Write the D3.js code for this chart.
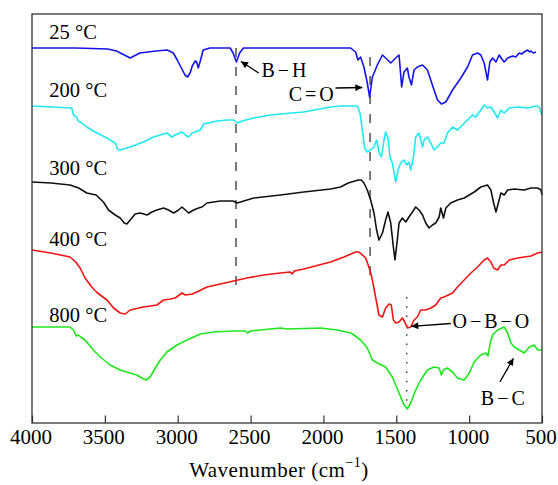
<!DOCTYPE html>
<html>
<head>
<meta charset="utf-8">
<script src="https://cdn.jsdelivr.net/npm/d3@7"></script>
<style>
  body { margin: 0; background: #fff; }
  text { font-family: "Liberation Serif", "Times New Roman", serif; }
</style>
</head>
<body>
<svg id="chart" width="558" height="485"></svg>
<script>
// FTIR spectra, wavenumber (cm-1) vs offset transmittance (a.u.)
const xTicks = [4000, 3500, 3000, 2500, 2000, 1500, 1000, 500]

const s25 = [[4000,375],[3700,375],[3480,374],[3420,372],[3326,365],[3260,370],[3150,372],[3072,373],[3030,370],[3003,363],[2975,355],[2950,348],[2932,346],[2915,350],[2900,357],[2880,362],[2870,361],[2859,355],[2845,362],[2825,373],[2780,375],[2640,375],[2620,370],[2597,361],[2575,370],[2549,375],[2200,375],[1813,375],[1779,371],[1763,363],[1745,366],[1722,356],[1699,340],[1683,326],[1664,346],[1630,358],[1595,368],[1573,365],[1538,360],[1497,366],[1481,368],[1463,336],[1447,351],[1424,355],[1413,346],[1396,338],[1378,353],[1355,356],[1320,358],[1286,353],[1241,333],[1217,323],[1190,319],[1160,321],[1114,333],[1057,345],[1011,356],[977,368],[942,370],[920,368],[897,360],[874,343],[858,361],[839,365],[816,361],[794,368],[770,363],[759,361],[736,365],[701,367],[680,366],[656,370],[640,369],[622,371],[598,373],[585,371],[576,372],[560,370],[541,371]]

const s200 = [[4000,317],[3727,315],[3716,308],[3693,306],[3682,302],[3658,300],[3624,296],[3567,291],[3486,285],[3429,280],[3413,274],[3395,273],[3326,276],[3235,281],[3166,286],[3120,288],[3074,290],[3039,286],[3017,288],[2971,291],[2948,288],[2925,286],[2902,290],[2879,291],[2845,293],[2822,299],[2730,302],[2661,303],[2616,303],[2592,300],[2558,302],[2478,305],[2363,308],[2295,309],[2135,311],[1951,316],[1882,317],[1767,317],[1749,310],[1733,293],[1717,275],[1699,271],[1676,273],[1653,276],[1635,283],[1619,271],[1602,266],[1584,283],[1573,291],[1557,285],[1543,266],[1527,260],[1504,241],[1488,253],[1470,260],[1447,263],[1428,258],[1413,261],[1401,253],[1382,266],[1367,286],[1344,290],[1320,276],[1309,283],[1286,286],[1263,280],[1241,273],[1217,276],[1195,280],[1172,280],[1149,290],[1114,296],[1080,293],[1046,298],[1011,303],[977,308],[954,306],[920,313],[897,318],[874,315],[851,316],[828,311],[805,305],[782,313],[759,310],[725,315],[667,316],[598,315],[541,317],[518,316],[502,308]]

const s300 = [[4000,241],[3870,240],[3739,238],[3680,235],[3624,230],[3560,228],[3510,221],[3475,213],[3429,208],[3395,205],[3367,200],[3349,199],[3326,203],[3292,209],[3257,210],[3211,208],[3177,211],[3143,213],[3097,215],[3063,213],[3028,210],[2994,213],[2971,216],[2948,213],[2925,210],[2891,213],[2857,215],[2833,216],[2799,220],[2707,222],[2620,222],[2592,220],[2547,222],[2478,225],[2295,228],[2135,231],[1951,234],[1882,236],[1830,240],[1760,243],[1740,243],[1722,240],[1699,233],[1676,223],[1653,210],[1635,193],[1619,183],[1595,190],[1573,203],[1557,211],[1538,200],[1520,176],[1509,163],[1493,183],[1481,200],[1458,205],[1435,201],[1413,206],[1389,211],[1367,216],[1344,213],[1320,208],[1298,200],[1275,195],[1252,198],[1229,200],[1206,206],[1195,215],[1176,205],[1160,215],[1126,220],[1080,223],[1034,225],[999,228],[965,231],[920,236],[874,238],[851,233],[832,220],[816,211],[794,223],[782,230],[759,228],[736,233],[690,234],[622,233],[576,235],[530,235],[507,233],[500,228]]

const s400 = [[4000,173],[3870,170],[3739,166],[3700,161],[3670,155],[3636,145],[3590,136],[3550,130],[3486,123],[3440,115],[3395,110],[3360,109],[3326,113],[3235,116],[3143,118],[3097,123],[3050,124],[3017,125],[2971,130],[2948,128],[2902,129],[2868,131],[2799,136],[2707,139],[2616,142],[2525,145],[2410,148],[2295,150],[2226,151],[2214,149],[2200,152],[2135,154],[1951,161],[1859,166],[1779,171],[1756,171],[1710,165],[1681,153],[1664,143],[1642,126],[1619,108],[1595,106],[1573,115],[1550,119],[1534,118],[1520,103],[1504,100],[1481,101],[1458,105],[1442,101],[1424,95],[1401,96],[1378,103],[1355,106],[1332,113],[1298,113],[1263,115],[1229,118],[1195,125],[1172,126],[1114,130],[1080,136],[1034,143],[988,150],[942,156],[897,163],[874,165],[851,161],[832,155],[805,153],[782,158],[759,158],[725,163],[667,165],[622,166],[576,167],[530,170],[500,171]]

const s800 = [[4000,96],[3739,96],[3716,93],[3697,87],[3682,88],[3665,86],[3636,83],[3579,73],[3532,66],[3464,58],[3395,53],[3326,50],[3280,48],[3246,45],[3218,43],[3189,46],[3154,55],[3120,63],[3074,71],[3005,78],[2936,83],[2845,89],[2753,91],[2616,92],[2535,92],[2520,90],[2501,92],[2432,93],[2295,95],[2249,94],[2020,95],[1905,93],[1813,90],[1790,88],[1745,83],[1699,75],[1664,63],[1630,60],[1573,56],[1527,46],[1481,30],[1447,18],[1424,14],[1401,20],[1367,33],[1332,43],[1286,53],[1241,56],[1206,55],[1190,48],[1176,53],[1149,55],[1114,51],[1080,45],[1034,43],[999,50],[965,61],[920,68],[885,70],[870,67],[856,80],[839,88],[805,93],[759,96],[736,90],[713,80],[690,76],[656,73],[622,70],[587,76],[553,78],[530,73],[500,73]]

const seriesNames = ['25 °C', '200 °C', '300 °C', '400 °C', '800 °C']
const seriesColors = ['#1414e8', '#1fe8f0', '#111111', '#f01414', '#1ee61e']
const labelValues = [384, 326, 248, 177, 101]

// guide lines: [wavenumber, from, to]
const dashedGuides = [[2600, 375, 131], [1680, 366, 145]]
const dottedGuides = [[1428, 126, 14]]

// annotations: text, text position, arrow start, arrow tip
const notes = [
    {text: 'B\u2212H', at: [2425, 346], from: [2444, 350], to: [2566, 361.5]},
    {text: 'C=O', at: [2238, 322], from: [1917, 335], to: [1733, 335.5]},
    {text: 'O\u2212B\u2212O', at: [1114, 95], from: [1126, 99.5], to: [1397, 96.7]},
    {text: 'B\u2212C', at: [920, 18.5], from: [789, 41], to: [696, 64.7]}
]

const margin = {top: 14, right: 16, bottom: 62, left: 32},
    width = 558 - margin.left - margin.right,
    height = 485 - margin.top - margin.bottom

const svg = d3.select('#chart')
const g = svg.append('g').attr('transform', 'translate(' + margin.left + ',' + margin.top + ')')

const x = d3.scaleLinear().domain([4000, 500]).range([0, width])
const y = d3.scaleLinear().domain([0, 409]).range([height, 0])

const line = d3.line().x(d => x(d[0])).y(d => y(d[1]))

const series = [s25, s200, s300, s400, s800].map((data, i) => ({
    name: seriesNames[i], color: seriesColors[i], data, label: labelValues[i]
}))

// guides first so the spectra sit on top
g.selectAll('.dash')
    .data(dashedGuides)
    .enter().append('line')
    .attr('x1', d => x(d[0])).attr('x2', d => x(d[0]))
    .attr('y1', d => y(d[1])).attr('y2', d => y(d[2]))
    .attr('stroke', '#222').attr('stroke-width', 1.2)
    .attr('stroke-dasharray', '9,10')

g.selectAll('.dot')
    .data(dottedGuides)
    .enter().append('line')
    .attr('x1', d => x(d[0])).attr('x2', d => x(d[0]))
    .attr('y1', d => y(d[1])).attr('y2', d => y(d[2]))
    .attr('stroke', '#222').attr('stroke-width', 1.3)
    .attr('stroke-dasharray', '1.5,7.8')

g.selectAll('.spectrum')
    .data(series)
    .enter().append('path')
    .attr('d', d => line(d.data))
    .attr('fill', 'none')
    .attr('stroke', d => d.color)
    .attr('stroke-width', 1.6)
    .attr('stroke-linejoin', 'round')

g.selectAll('.label')
    .data(series)
    .enter().append('text')
    .attr('x', x(3881))
    .attr('y', d => y(d.label))
    .attr('font-size', 20.5)
    .text(d => d.name)

// arrows
svg.append('defs').append('marker')
    .attr('id', 'head')
    .attr('viewBox', '0 0 10 10')
    .attr('refX', 10).attr('refY', 5)
    .attr('markerWidth', 9).attr('markerHeight', 7)
    .attr('markerUnits', 'userSpaceOnUse')
    .attr('orient', 'auto')
    .append('path').attr('d', 'M0,0L10,5L0,10z').attr('fill', '#000')

g.selectAll('.arrow')
    .data(notes)
    .enter().append('line')
    .attr('x1', d => x(d.from[0])).attr('y1', d => y(d.from[1]))
    .attr('x2', d => x(d.to[0])).attr('y2', d => y(d.to[1]))
    .attr('stroke', '#000').attr('stroke-width', 1.3)
    .attr('marker-end', 'url(#head)')

g.selectAll('.note')
    .data(notes)
    .enter().append('text')
    .attr('x', d => x(d.at[0]))
    .attr('y', d => y(d.at[1]))
    .attr('font-size', 20)
    .attr('letter-spacing', 3)
    .text(d => d.text)

// frame
g.append('rect')
    .attr('width', width).attr('height', height)
    .attr('fill', 'none').attr('stroke', '#333').attr('stroke-width', 1.3)

const xAxis = g.append('g')
    .attr('transform', 'translate(0,' + height + ')')
    .call(d3.axisBottom(x).tickValues(xTicks).tickSizeInner(-7.5).tickSizeOuter(0).tickPadding(6).tickFormat(d3.format('d')))

xAxis.select('.domain').remove()
xAxis.selectAll('line').attr('stroke', '#333').attr('stroke-width', 1.2)
xAxis.selectAll('text')
    .attr('font-size', 21)
    .attr('fill', '#000')
    .attr('dx', -1.5)
    .style('font-family', '"Liberation Serif", "Times New Roman", serif')

const title = g.append('text')
    .attr('x', width / 2 - 8)
    .attr('y', height + 54)
    .attr('text-anchor', 'middle')
    .attr('font-size', 21)
    .attr('letter-spacing', 0.5)
title.append('tspan').text('Wavenumber (cm')
title.append('tspan').attr('font-size', 14).attr('dy', -10).text('\u22121')
title.append('tspan').attr('dy', 10).text(')')
</script>
</body>
</html>
